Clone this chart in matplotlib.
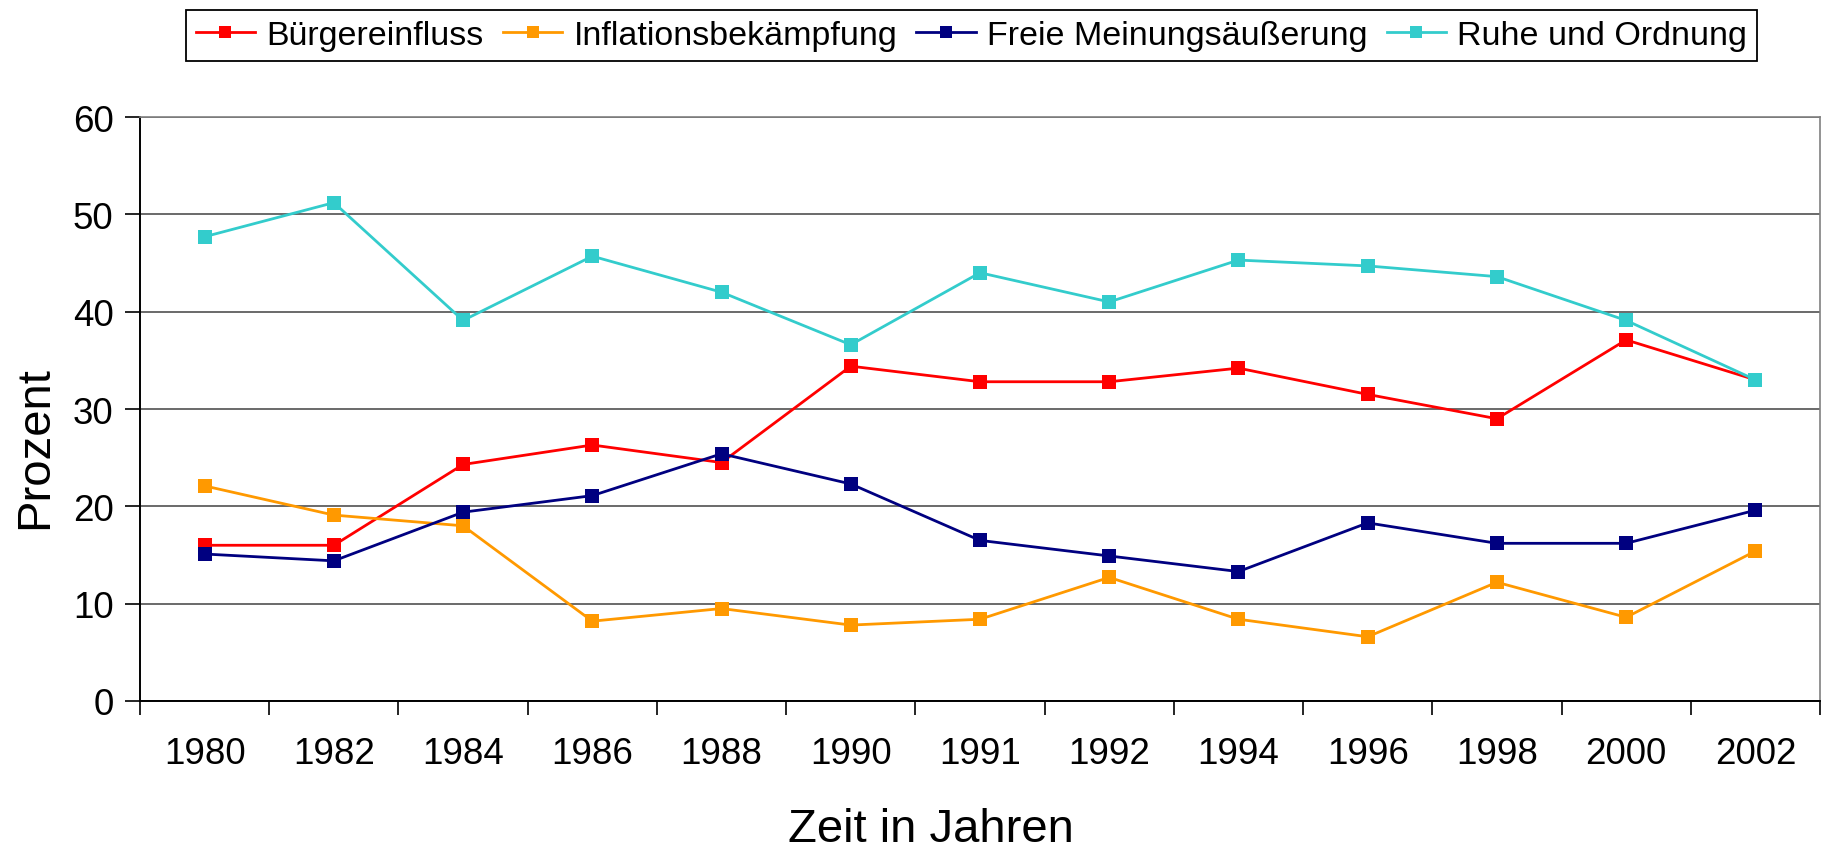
import numpy as np
import matplotlib
matplotlib.use("Agg")
import matplotlib.pyplot as plt

# Données
annees = ['1980', '1982', '1984', '1986', '1988', '1990', '1991',
          '1992', '1994', '1996', '1998', '2000', '2002']
buerger = [16.0, 16.0, 24.3, 26.3, 24.5, 34.4, 32.8, 32.8, 34.2, 31.5, 29.0, 37.1, 33.0]
inflation = [22.1, 19.1, 18.0, 8.2, 9.5, 7.8, 8.4, 12.7, 8.4, 6.6, 12.2, 8.6, 15.4]
meinung = [15.1, 14.4, 19.4, 21.1, 25.4, 22.3, 16.5, 14.9, 13.3, 18.3, 16.2, 16.2, 19.6]
ruhe = [47.7, 51.2, 39.1, 45.7, 42.0, 36.6, 44.0, 41.0, 45.3, 44.7, 43.6, 39.1, 33.0]

noms = ['Bürgereinfluss', 'Inflationsbekämpfung', 'Freie Meinungsäußerung', 'Ruhe und Ordnung']
couleurs = ['#FF0000', '#FF9900', '#000080', '#33CCCC']
series = [buerger, inflation, meinung, ruhe]

plt.rcParams['font.family'] = ['Liberation Sans', 'DejaVu Sans']

W, H = 1823, 853
fig = plt.figure(figsize=(W / 100, H / 100), dpi=100)
# zone du graphique (en pixels : gauche 140, droite 1820, haut 118, bas 702)
ax = fig.add_axes([140 / W, 1 - 702 / H, 1680 / W, 584 / H])

x = np.arange(len(annees))
for nom, c, s in zip(noms, couleurs, series):
    ax.plot(x, s, color=c, lw=2.0, marker='s', markersize=9.8,
            markeredgewidth=0, label=nom)

ax.set_xlim(-0.5, len(annees) - 0.5)
ax.set_ylim(0, 60)
ax.set_yticks(np.arange(0, 61, 10))
ax.yaxis.grid(True, color='#505050', lw=1.2)
ax.set_axisbelow(True)

# graduations aux limites des catégories, étiquettes au centre
ax.set_xticks(np.arange(-0.5, len(annees), 1.0))
ax.set_xticklabels([])
ax.set_xticks(x, minor=True)
ax.set_xticklabels(annees, minor=True)
ax.tick_params(axis='x', which='major', length=10, width=1.2, color='black')
ax.tick_params(axis='x', which='minor', length=0, pad=25.5, labelsize=26.5)
ax.tick_params(axis='y', length=11, width=1.2, pad=8, labelsize=26.5)

for cote in ['left', 'bottom']:
    ax.spines[cote].set_color('black')
    ax.spines[cote].set_linewidth(1.4)
for cote in ['top', 'right']:
    ax.spines[cote].set_color('#808080')
    ax.spines[cote].set_linewidth(1.2)

# titres des axes
fig.text(931 / W, 1 / H, 'Zeit in Jahren', fontsize=34, ha='center', va='bottom')
fig.text(35 / W, 1 - 448 / H, 'Prozent', fontsize=34, rotation=90, ha='center', va='center')

leg = fig.legend(loc='center', bbox_to_anchor=(971.5 / W, 1 - 36.5 / H), ncol=4,
                 fontsize=24.5, handlelength=1.75, handletextpad=0.33,
                 columnspacing=0.56, borderpad=0.28, fancybox=False,
                 framealpha=1, edgecolor='black', markerscale=0.9)
leg.get_frame().set_linewidth(1.3)

fig.savefig('out.png', dpi=100)
